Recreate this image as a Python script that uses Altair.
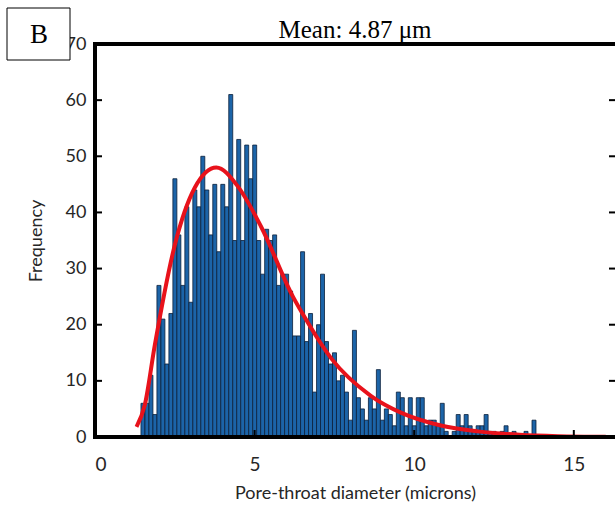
import altair as alt
import pandas as pd

# Histogram counts (bin width 0.125 micron, first bin starts at 1.44)
counts = [6, 6, 11, 4, 27, 21, 13, 22, 46, 36,
          27, 41, 24, 44, 41, 50, 44, 36, 45, 33,
          45, 41, 61, 35, 53, 35, 52, 46, 52, 35,
          29, 37, 35, 36, 27, 29, 29, 26, 18, 18,
          33, 17, 22, 8, 20, 29, 17, 13, 15, 10,
          11, 8, 3, 19, 7, 5, 3, 7, 5, 12,
          3, 5, 4, 2, 8, 7, 2, 7, 2, 7,
          7, 2, 3, 3, 2, 6, 1, 0, 1, 4,
          2, 4, 2, 1, 2, 2, 4, 1, 1, 0,
          1, 2, 0, 1, 0, 0, 1, 0, 3]
bin_start = 1.44
bin_width = 0.125

# Fitted curve
curve_x = [1.30, 1.56, 1.875, 2.5, 3.125, 3.8, 4.48, 5.2, 6.2, 6.56, 7.4, 8.65, 9.6, 10.8, 12.0, 13.3, 14.5, 16.0]
curve_y = [1.8, 5.7, 16.4, 34.2, 44.4, 48.0, 44.6, 37.5, 25.0, 21.4, 14.0, 7.3, 4.3, 2.1, 1.0, 0.4, 0.15, 0.05]

x_ticks = [0, 5, 10, 15]
y_ticks = [0, 10, 20, 30, 40, 50, 60, 70]

W, H = 520, 393
xdom = [0, 16.29]
ydom = [0, 70]

bars = pd.DataFrame({
    "x": [bin_start + i * bin_width for i in range(len(counts))],
    "x2": [bin_start + (i + 1) * bin_width for i in range(len(counts))],
    "y": counts,
    "y0": [0] * len(counts),
})
curve = pd.DataFrame({"x": curve_x, "y": curve_y})
xt = pd.DataFrame({"x": x_ticks})
yt = pd.DataFrame({"y": y_ticks})
one = pd.DataFrame({"a": [0]})

FONT = "Lato"
GRAY = "#262626"
xscale = alt.Scale(domain=xdom, nice=False, zero=False)
yscale = alt.Scale(domain=ydom, nice=False, zero=False)
xaxis = alt.Axis(values=x_ticks, title="Pore-throat diameter (microns)", grid=False, domain=False,
                 tickSize=0, labelPadding=18, labelFont=FONT, labelFontSize=19, labelColor=GRAY,
                 titleFont=FONT, titleFontSize=18, titleFontWeight="normal", titleColor=GRAY,
                 titlePadding=10, format="d")
yaxis = alt.Axis(values=y_ticks, title="Frequency", grid=False, domain=False,
                 tickSize=0, labelPadding=9, labelFont=FONT, labelFontSize=18, labelColor=GRAY,
                 titleFont=FONT, titleFontSize=18, titleFontWeight="normal", titleColor=GRAY,
                 titlePadding=20, format="d")

X = alt.X("x:Q", scale=xscale, axis=xaxis)
Y = alt.Y("y:Q", scale=yscale, axis=yaxis)

bar_layer = alt.Chart(bars).mark_bar(color="#1c64a8", stroke="#0b1f3a", strokeWidth=0.8).encode(
    x=X, x2="x2:Q", y=Y, y2="y0:Q")

curve_layer = alt.Chart(curve).mark_line(color="#e8121b", strokeWidth=4, interpolate="monotone").encode(
    x=X, y=Y)

xtick_layer = alt.Chart(xt).mark_rule(color="black", strokeWidth=2).encode(
    x=X, y=alt.value(H), y2=alt.value(H - 7))
ytick_left = alt.Chart(yt).mark_rule(color="black", strokeWidth=2).encode(
    y=Y, x=alt.value(0), x2=alt.value(7))
ytick_right = alt.Chart(yt).mark_rule(color="black", strokeWidth=2).encode(
    y=Y, x=alt.value(W - 6), x2=alt.value(W))

bottom = alt.Chart(one).mark_rule(color="black", strokeWidth=4).encode(
    x=alt.value(-2), x2=alt.value(W), y=alt.value(H))
top = alt.Chart(one).mark_rule(color="black", strokeWidth=4).encode(
    x=alt.value(-2), x2=alt.value(W), y=alt.value(0))
left = alt.Chart(one).mark_rule(color="black", strokeWidth=4).encode(
    x=alt.value(0), y=alt.value(-2), y2=alt.value(H + 2))

title = alt.Chart(one).mark_text(text="Mean: 4.87 μm", font="Liberation Serif", fontSize=25,
                                 color="black", align="center", baseline="alphabetic").encode(
    x=alt.value(260), y=alt.value(-6))

box = alt.Chart(one).mark_rect(fill="white", stroke="black", strokeWidth=1).encode(
    x=alt.value(-88), x2=alt.value(-25), y=alt.value(-36), y2=alt.value(16))
box_text = alt.Chart(one).mark_text(text="B", font="Liberation Serif", fontSize=27,
                                    color="black", align="center", baseline="middle").encode(
    x=alt.value(-56), y=alt.value(-9))

chart = alt.layer(
    bar_layer, curve_layer, xtick_layer, ytick_left, ytick_right,
    bottom, top, left, title, box, box_text
).properties(
    width=W, height=H,
    padding={"left": 95, "top": 44, "right": 0, "bottom": 79},
    autosize="none",
    background="white",
).configure_view(stroke=None)

chart.save("out.html", embed_options={"renderer": "svg", "actions": False})
